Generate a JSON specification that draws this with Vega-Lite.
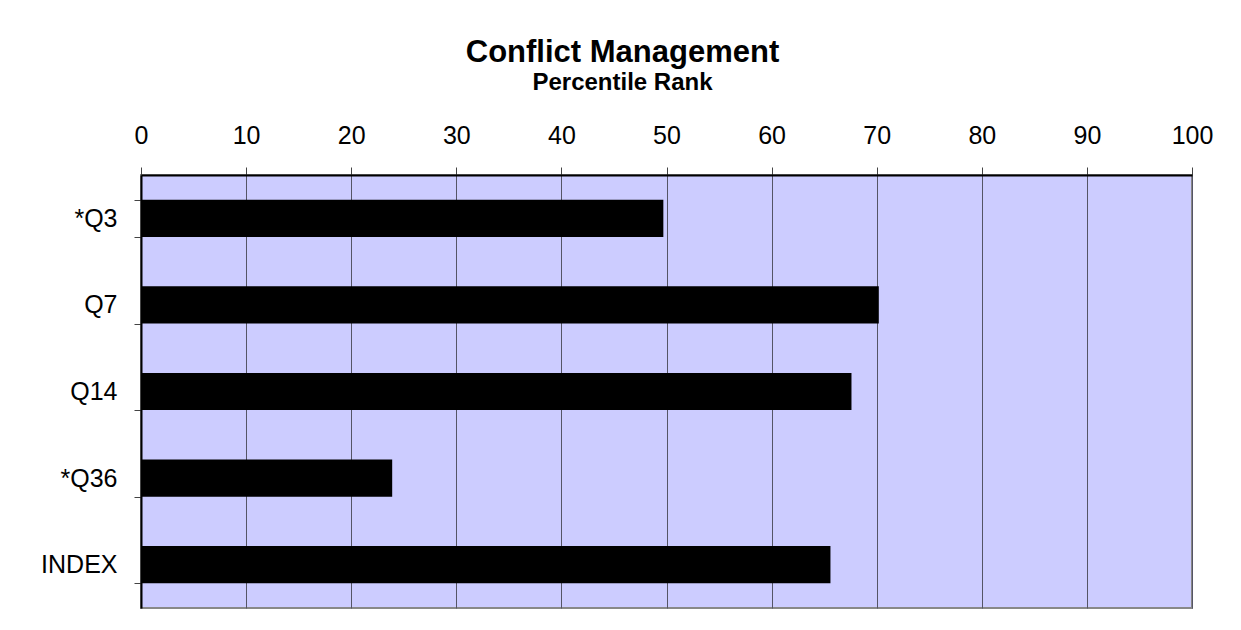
{
  "$schema": "https://vega.github.io/schema/vega-lite/v6.json",
  "width": 1051,
  "height": 433,
  "autosize": {"type": "none"},
  "padding": {"left": 141, "top": 175, "right": 49, "bottom": 22},
  "background": "white",
  "title": {
    "text": "Conflict Management",
    "subtitle": "Percentile Rank",
    "font": "Liberation Sans",
    "fontSize": 31,
    "fontWeight": "bold",
    "color": "black",
    "subtitleFont": "Liberation Sans",
    "subtitleFontSize": 24,
    "subtitleFontWeight": "bold",
    "subtitleColor": "black",
    "subtitlePadding": 2,
    "anchor": "middle",
    "frame": "group",
    "dx": -44,
    "offset": 27
  },
  "data": {
    "values": [
      {"item": "*Q3", "rank": 49.7},
      {"item": "Q7", "rank": 70.2},
      {"item": "Q14", "rank": 67.6},
      {"item": "*Q36", "rank": 23.9},
      {"item": "INDEX", "rank": 65.6}
    ]
  },
  "mark": {"type": "bar", "color": "black"},
  "encoding": {
    "y": {
      "field": "item",
      "type": "nominal",
      "sort": null,
      "scale": {"paddingInner": 0.57, "paddingOuter": 0.285},
      "axis": {
        "title": null,
        "orient": "left",
        "tickBand": "extent",
        "tickSize": 7,
        "tickColor": "#444",
        "labelPadding": 17,
        "labelFont": "Liberation Sans",
        "labelFontSize": 25,
        "labelColor": "black",
        "domainColor": "black",
        "domainWidth": 2,
        "grid": false
      }
    },
    "x": {
      "field": "rank",
      "type": "quantitative",
      "scale": {"domain": [0, 100], "nice": false},
      "axis": {
        "title": null,
        "orient": "top",
        "values": [0, 10, 20, 30, 40, 50, 60, 70, 80, 90, 100],
        "tickSize": 8,
        "tickColor": "#444",
        "labelPadding": 19,
        "labelFlush": false,
        "labelOverlap": false,
        "labelBound": false,
        "labelFont": "Liberation Sans",
        "labelFontSize": 25,
        "labelColor": "black",
        "domainColor": "black",
        "domainWidth": 2,
        "grid": true,
        "gridColor": "#555566",
        "gridWidth": 1,
        "gridOpacity": 1
      }
    }
  },
  "config": {
    "view": {"fill": "#CCCCFF", "stroke": "#888888", "strokeWidth": 2}
  }
}
